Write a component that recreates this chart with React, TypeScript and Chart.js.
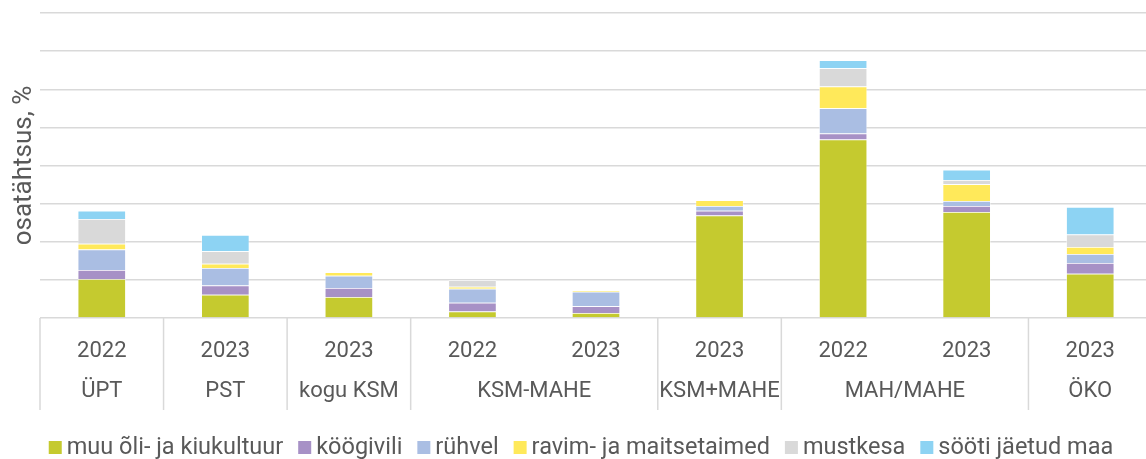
import React, { useEffect, useRef } from "react";
import { Chart, registerables } from "chart.js";

Chart.register(...registerables);

const years = ["2022", "2023", "2023", "2022", "2023", "2023", "2022", "2023", "2023"];
const groupNames = ["ÜPT", "PST", "kogu KSM", "KSM-MAHE", "KSM+MAHE", "MAH/MAHE", "ÖKO"];
const groupSpans = [1, 1, 1, 2, 1, 2, 1];

const seriesNames = [
  "muu õli- ja kiukultuur",
  "köögivili",
  "rühvel",
  "ravim- ja maitsetaimed",
  "mustkesa",
  "sööti jäetud maa",
];
const muuOli = [1.02, 0.61, 0.55, 0.17, 0.13, 2.69, 4.68, 2.78, 1.16];
const koogivili = [0.24, 0.24, 0.24, 0.23, 0.18, 0.12, 0.16, 0.16, 0.28];
const ruhvel = [0.54, 0.46, 0.32, 0.37, 0.38, 0.13, 0.66, 0.13, 0.24];
const ravim = [0.15, 0.11, 0.09, 0.05, 0.03, 0.15, 0.57, 0.44, 0.18];
const mustkesa = [0.65, 0.33, 0, 0.17, 0, 0, 0.48, 0.11, 0.33];
const sooti = [0.21, 0.43, 0, 0, 0, 0, 0.21, 0.27, 0.72];
const seriesColors = ["#C5CA2F", "#A791C6", "#AABEE3", "#FFE95A", "#D9D9D9", "#8DD3F3"];

const yTitle = "osatähtsus, %";
const textColor = "#595959";
const gridColor = "#D9D9D9";
const FONT = "Roboto";

const axisPlugin = {
  id: "twoLevelAxis",
  afterDraw(chart: any) {
    const { ctx, chartArea } = chart;
    const x = chart.scales.x;
    const w = x.getPixelForValue(1) - x.getPixelForValue(0);
    const bottom = chartArea.bottom;
    ctx.save();
    ctx.fillStyle = textColor;
    ctx.font = `22px ${FONT}`;
    ctx.textAlign = "center";
    ctx.textBaseline = "alphabetic";
    years.forEach((yr, i) => {
      ctx.fillText(yr, x.getPixelForValue(i), bottom + 39);
    });
    ctx.strokeStyle = gridColor;
    ctx.lineWidth = 1.5;
    let idx = 0;
    let lastRight = 0;
    groupNames.forEach((g, gi) => {
      const span = groupSpans[gi];
      const left = x.getPixelForValue(idx) - w / 2;
      const right = x.getPixelForValue(idx + span - 1) + w / 2;
      ctx.beginPath();
      ctx.moveTo(left, bottom);
      ctx.lineTo(left, bottom + 92);
      ctx.stroke();
      ctx.fillText(g, (left + right) / 2, bottom + 78.5);
      lastRight = right;
      idx += span;
    });
    ctx.beginPath();
    ctx.moveTo(lastRight, bottom);
    ctx.lineTo(lastRight, bottom + 92);
    ctx.stroke();

    // legend
    ctx.font = `23.5px ${FONT}`;
    ctx.textAlign = "left";
    const box = 13;
    const gapText = 5;
    const gapItem = 15;
    const widths = seriesNames.map((n) => ctx.measureText(n).width);
    const total =
      widths.reduce((a, b) => a + b, 0) + seriesNames.length * (box + gapText) + (seriesNames.length - 1) * gapItem;
    let lx = 581 - total / 2;
    const baseY = bottom + 136;
    seriesNames.forEach((n, i) => {
      ctx.fillStyle = seriesColors[i];
      ctx.fillRect(lx, baseY - 13, box, box);
      ctx.fillStyle = textColor;
      ctx.fillText(n, lx + box + gapText, baseY);
      lx += box + gapText + widths[i] + gapItem;
    });

    // y title
    ctx.translate(24, (chartArea.top + chartArea.bottom) / 2);
    ctx.rotate(-Math.PI / 2);
    ctx.textAlign = "center";
    ctx.textBaseline = "middle";
    ctx.font = `26px ${FONT}`;
    ctx.fillText(yTitle, 0, 0);
    ctx.restore();
  },
};

export default function App() {
  const ref = useRef<HTMLCanvasElement>(null);
  useEffect(() => {
    document.body.style.margin = "0";
    const values = [muuOli, koogivili, ruhvel, ravim, mustkesa, sooti];
    const chart = new Chart(ref.current!, {
      type: "bar",
      data: {
        labels: years.map((y, i) => `${y}-${i}`),
        datasets: seriesNames.map((name, i) => ({
          label: name,
          data: values[i],
          backgroundColor: seriesColors[i],
          borderColor: "rgba(255,255,255,0.7)",
          borderWidth: 0.75,
          categoryPercentage: 1,
          barPercentage: 0.39,
        })),
      },
      options: {
        animation: false,
        responsive: false,
        maintainAspectRatio: false,
        layout: { padding: { left: 40, top: 13, right: 0, bottom: 0 } },
        plugins: {
          legend: { display: false },
          tooltip: { enabled: false },
        },
        scales: {
          x: {
            stacked: true,
            ticks: { display: false },
            grid: { display: false },
            border: { display: false },
            afterFit: (scale: any) => {
              scale.height = 141;
            },
          },
          y: {
            stacked: true,
            min: 0,
            max: 8,
            ticks: { display: false, stepSize: 1 },
            grid: { color: gridColor, lineWidth: 1.5, drawTicks: false },
            border: { display: false },
          },
        },
      },
      plugins: [axisPlugin],
    });
    return () => chart.destroy();
  }, []);
  return (
    <div style={{ width: 1146, height: 459, overflow: "hidden" }}>
      <canvas ref={ref} width={1152} height={459} style={{ display: "block" }} />
    </div>
  );
}
